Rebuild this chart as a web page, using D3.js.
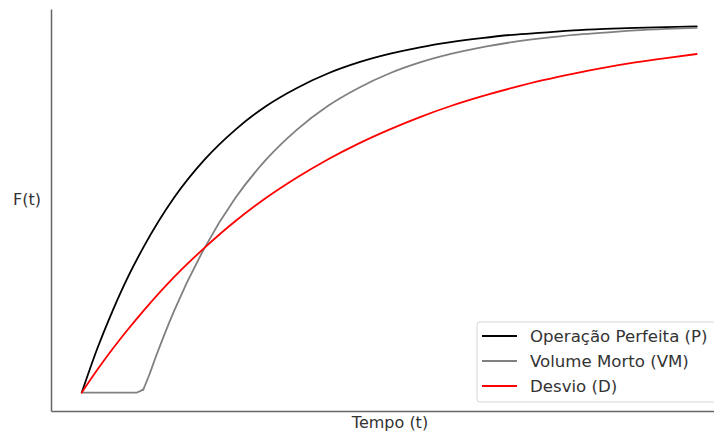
<!DOCTYPE html>
<html>
<head>
<meta charset="utf-8">
<script src="https://cdn.jsdelivr.net/npm/d3@7"></script>
<style>
  body { margin: 0; background: #fff; }
  svg { display: block; font-family: "DejaVu Sans", sans-serif; }
</style>
</head>
<body>
<div id="chart"></div>
<script>
// Tempo (t) samples and F(t)
var tempo = [0, 0.25, 0.5, 0.75, 1, 1.5, 2, 2.5, 3, 3.5, 4, 4.5, 5, 5.5, 6, 6.5, 7, 7.5, 8, 8.5, 9, 9.5, 10];

var perfeita = [0, 0.118, 0.221, 0.313, 0.393, 0.528, 0.632, 0.713, 0.777, 0.826, 0.865, 0.895, 0.918,
    0.936, 0.950, 0.961, 0.970, 0.976, 0.982, 0.986, 0.989, 0.991, 0.993];

var desvio = [0, 0.061, 0.118, 0.171, 0.221, 0.313, 0.393, 0.465, 0.528, 0.583, 0.632, 0.675, 0.713,
    0.747, 0.777, 0.803, 0.826, 0.847, 0.865, 0.881, 0.895, 0.907, 0.918];

// dead volume curve has its own time points (flat start, then a kink)
var tempoVM = [0, 0.5, 0.9, 1.0, 1.1, 1.2, 1.35, 1.5, 2, 2.5, 3, 3.5, 4, 4.5, 5, 5.5, 6, 6.5, 7, 7.5, 8, 8.5, 9, 9.5, 10];
var volumeMorto = [0, 0, 0, 0.008, 0.049, 0.095, 0.16, 0.221, 0.393, 0.528, 0.632, 0.713, 0.777, 0.826, 0.865,
    0.895, 0.918, 0.936, 0.950, 0.961, 0.970, 0.976, 0.982, 0.986, 0.989];

var seriesNames = ["Operação Perfeita (P)", "Volume Morto (VM)", "Desvio (D)"];
var seriesColors = ["#000000", "#808080", "#ff0000"];

var width = 714,
    height = 434;

var margin = {left: 51, top: 9, bottom: 23};

var x = d3.scaleLinear()
    .domain([-0.5, 10.5])
    .range([51, 727.5]);

var y = d3.scaleLinear()
    .domain([-0.05, 1.04])
    .range([height - margin.bottom, margin.top]);

var svg = d3.select("#chart").append("svg")
    .attr("width", width)
    .attr("height", height);

var smooth = d3.line()
    .x(d => x(d[0]))
    .y(d => y(d[1]))
    .curve(d3.curveMonotoneX);

// the dead volume start is a sharp corner, so straight segments there
var straight = d3.line()
    .x(d => x(d[0]))
    .y(d => y(d[1]));

var series = [
    {pts: d3.zip(tempo, perfeita), gen: smooth},
    {pts: d3.zip(tempoVM, volumeMorto).slice(0, 4), gen: straight},
    {pts: d3.zip(tempoVM, volumeMorto).slice(3), gen: smooth},
    {pts: d3.zip(tempo, desvio), gen: smooth}
];
var curveColors = [seriesColors[0], seriesColors[1], seriesColors[1], seriesColors[2]];

svg.selectAll(".curve")
    .data(series)
    .enter().append("path")
    .attr("class", "curve")
    .attr("d", d => d.gen(d.pts))
    .attr("fill", "none")
    .attr("stroke", (d, i) => curveColors[i])
    .attr("stroke-width", 1.8)
    .attr("stroke-linejoin", "round")
    .attr("stroke-linecap", "round");

// spines, no ticks
var xAxis = d3.axisBottom(x).tickValues([]).tickSizeOuter(0);
var yAxis = d3.axisLeft(y).tickValues([]).tickSizeOuter(0);

svg.append("g")
    .attr("transform", "translate(0," + (height - margin.bottom) + ")")
    .call(xAxis)
    .select(".domain")
    .attr("stroke", "#666")
    .attr("stroke-width", 1.5);

svg.append("g")
    .attr("transform", "translate(" + margin.left + ",0)")
    .call(yAxis)
    .select(".domain")
    .attr("stroke", "#666")
    .attr("stroke-width", 1.5);

// axis labels
svg.append("text")
    .attr("x", 390)
    .attr("y", 428)
    .attr("text-anchor", "middle")
    .attr("font-size", 16)
    .attr("fill", "#333")
    .text("Tempo (t)");

svg.append("text")
    .attr("x", 27)
    .attr("y", 205)
    .attr("text-anchor", "middle")
    .attr("font-size", 16)
    .attr("fill", "#333")
    .text("F(t)");

// legend
var legend = svg.append("g").attr("class", "legend");

legend.append("rect")
    .attr("x", 477)
    .attr("y", 322)
    .attr("width", 250)
    .attr("height", 80)
    .attr("rx", 3)
    .attr("fill", "#fff")
    .attr("fill-opacity", 0.8)
    .attr("stroke", "#d6d6d6");

legend.selectAll(".item")
    .data(seriesNames)
    .enter().append("g")
    .attr("class", "item")
    .each(function (d, i) {
        var g = d3.select(this);
        var yy = 336 + i * 25;
        g.append("line")
            .attr("x1", 482)
            .attr("x2", 517)
            .attr("y1", yy)
            .attr("y2", yy)
            .attr("stroke", seriesColors[i])
            .attr("stroke-width", 1.8);
        g.append("text")
            .attr("x", 530)
            .attr("y", yy + 6)
            .attr("font-size", 16.6)
            .attr("fill", "#333")
            .text(d);
    });
</script>
</body>
</html>
